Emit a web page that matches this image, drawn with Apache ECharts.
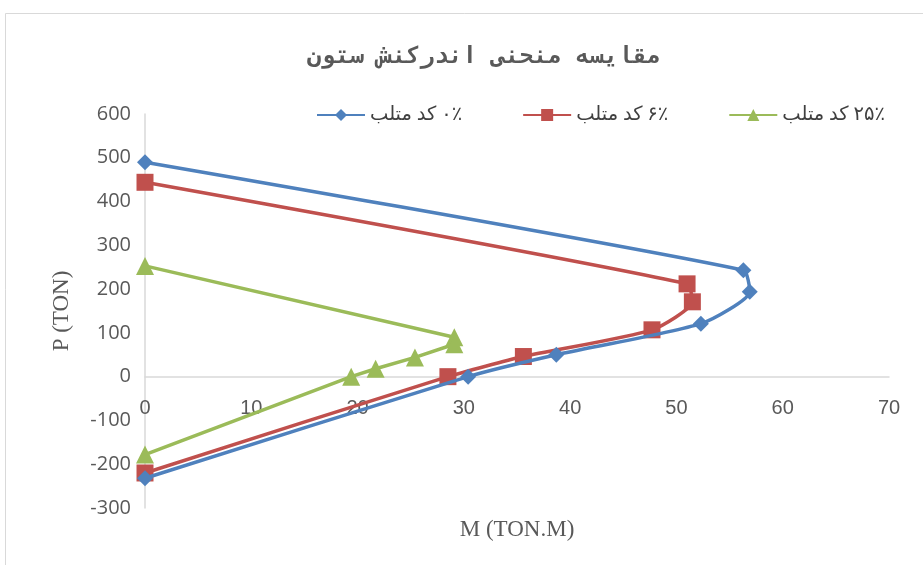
<!DOCTYPE html>
<html>
<head>
<meta charset="utf-8">
<script src="https://cdn.jsdelivr.net/npm/echarts@6/dist/echarts.min.js"></script>
<style>
html, body { margin: 0; padding: 0; background: #fff; }
#chart { width: 923px; height: 565px; }
</style>
</head>
<body>
<div id="chart"></div>
<script>
// Interaction curves: moment M (TON.M) vs axial load P (TON)
const seriesNames = ['\u202B۰٪ کد متلب\u202C', '\u202B۶٪ کد متلب\u202C', '\u202B۲۵٪ کد متلب\u202C'];

const blueM = [0, 56.3, 56.9, 52.3, 38.7, 30.4, 0];
const blueP = [490, 243, 194, 121, 50, 0, -232];

const redM = [0, 51.0, 51.5, 47.7, 35.6, 28.5, 0];
const redP = [444, 212, 171, 107, 46, 0, -220];

const greenM = [0, 29.1, 29.1, 25.4, 21.7, 19.4, 0];
const greenP = [253, 90, 74, 44, 18, 0, -178];

const xTicks = [0, 10, 20, 30, 40, 50, 60, 70];
const yTicks = [-300, -200, -100, 0, 100, 200, 300, 400, 500, 600];

const pairs = (xs, ys) => xs.map((x, i) => [x, ys[i]]);

const colors = ['#4F81BD', '#C0504D', '#9BBB59'];
const symbols = ['diamond', 'rect', 'triangle'];
const symbolSizes = [16, 17, 18];
const smoothing = [0.2, 0.2, false];
const datasets = [pairs(blueM, blueP), pairs(redM, redP), pairs(greenM, greenP)];

const W = 923, H = 565;
const grid = { left: 145, right: 34, top: 114, bottom: 57 };
const yMin = yTicks[0], yMax = yTicks[yTicks.length - 1];
// lift the horizontal axis so it runs along P = 0
const plotH = H - grid.top - grid.bottom;
const xAxisLift = -plotH * (0 - yMin) / (yMax - yMin);

const chart = echarts.init(document.getElementById('chart'), null, { renderer: 'canvas' });

chart.setOption({
  animation: false,
  backgroundColor: '#ffffff',
  title: {
    text: 'مقایسه منحنی اندرکنش ستون',
    left: 302,
    top: 40,
    textStyle: {
      fontFamily: 'DejaVu Sans Mono',
      fontSize: 23.5,
      fontWeight: 'bold',
      color: '#595959'
    }
  },
  legend: {
    top: 100,
    left: 311,
    itemGap: 60,
    itemWidth: 48,
    itemHeight: 15,
    textStyle: {
      fontFamily: 'Liberation Serif, DejaVu Sans',
      fontSize: 19.5,
      color: '#404040'
    },
    data: seriesNames
  },
  graphic: [{
    type: 'rect',
    shape: { x: 5.5, y: 13.5, width: 940, height: 600 },
    style: { fill: 'none', stroke: '#d9d9d9', lineWidth: 1 },
    silent: true,
    z: -1
  }],
  grid: Object.assign({ containLabel: false, outerBoundsMode: 'none' }, grid),
  xAxis: {
    type: 'value',
    min: xTicks[0],
    max: xTicks[xTicks.length - 1],
    interval: 10,
    offset: xAxisLift,
    name: 'M (TON.M)',
    nameLocation: 'middle',
    nameGap: 142,
    nameTextStyle: { fontFamily: 'Liberation Serif', fontSize: 23, color: '#595959' },
    axisLine: { onZero: false, lineStyle: { color: '#d9d9d9', width: 1.5 } },
    axisTick: { show: false },
    splitLine: { show: false },
    axisLabel: {
      margin: 22,
      fontFamily: 'Liberation Sans Narrow, Liberation Sans',
      fontSize: 20,
      color: '#595959'
    }
  },
  yAxis: {
    type: 'value',
    min: yMin,
    max: yMax,
    interval: 100,
    name: 'P (TON)',
    nameLocation: 'middle',
    nameGap: 72,
    nameTextStyle: { fontFamily: 'Liberation Serif', fontSize: 23, color: '#595959' },
    axisLine: { show: true, onZero: false, lineStyle: { color: '#d9d9d9', width: 1.5 } },
    axisTick: { show: false },
    splitLine: { show: false },
    axisLabel: {
      margin: 14,
      fontFamily: 'Open Sans',
      fontSize: 20,
      color: '#595959'
    }
  },
  series: datasets.map((d, i) => ({
    name: seriesNames[i],
    type: 'line',
    data: d,
    smooth: smoothing[i],
    symbol: symbols[i],
    symbolSize: symbolSizes[i],
    itemStyle: { color: colors[i] },
    lineStyle: { color: colors[i], width: 3.5 },
    z: 3 - i
  }))
});
</script>
</body>
</html>
